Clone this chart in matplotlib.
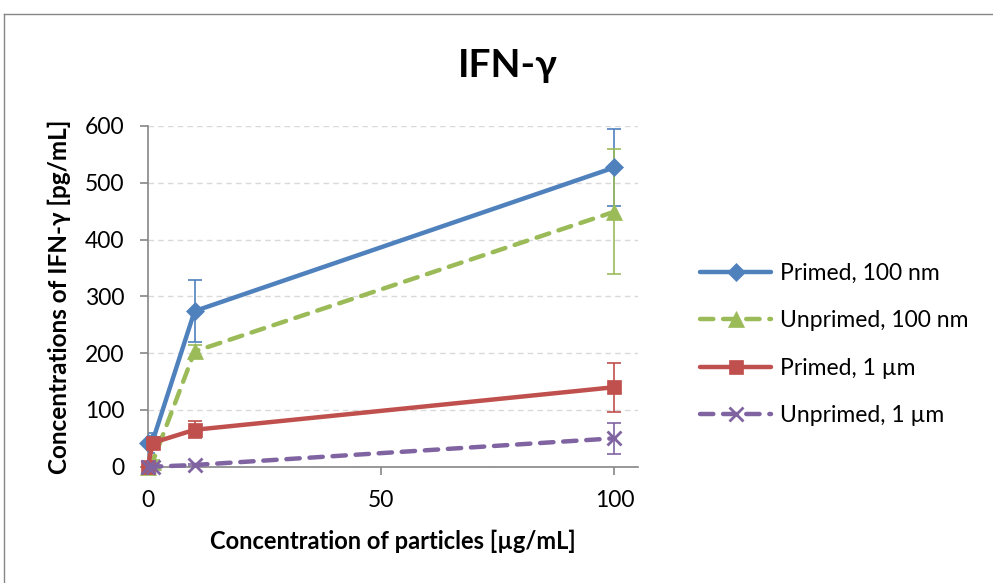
import matplotlib
matplotlib.use('Agg')
from matplotlib import pyplot as plt
from matplotlib.lines import Line2D

plt.rcParams['font.family'] = ['Lato', 'DejaVu Sans']

# concentrations of particles [ug/mL]
conc = [0, 1, 10, 100]

primed_100nm = [42, 45, 274, 527]
primed_100nm_err = [18, 8, 55, 68]
unprimed_100nm = [0, 8, 203, 449]
unprimed_100nm_err = [2, 4, 12, 110]
primed_1um = [0, 42, 65, 140]
primed_1um_err = [2, 8, 15, 43]
unprimed_1um = [0, 0, 3, 50]
unprimed_1um_err = [1, 1, 2, 27]

series = [
  ("Primed, 100 nm", primed_100nm, primed_100nm_err, '#4F81BD', '-', 'D', 9),
  ("Unprimed, 100 nm", unprimed_100nm, unprimed_100nm_err, '#9BBB59', (0, (3, 2.2)), '^', 11),
  ("Primed, 1 \u00b5m", primed_1um, primed_1um_err, '#C0504D', '-', 's', 10),
  ("Unprimed, 1 \u00b5m", unprimed_1um, unprimed_1um_err, '#8064A2', (0, (3, 2.2)), 'x', 10),
]

grey = '#868686'

fig = plt.figure(figsize=(9.93, 5.83), dpi=100)
ax = fig.add_axes([0.149, 0.1995, 0.4932, 0.5844])

handles = []
for label, vals, errs, color, ls, marker, ms in series:
  ax.errorbar(conc, vals, yerr=errs, fmt='none', ecolor=color,
              elinewidth=1.2, capsize=5, capthick=1.2, zorder=2)
  line, = ax.plot(conc, vals, color=color, linestyle=ls, linewidth=3.2,
                  marker=marker, markersize=ms, markeredgewidth=2 if marker == 'x' else 0.5,
                  markeredgecolor=color, markerfacecolor=color,
                  dash_capstyle='round', solid_capstyle='round', zorder=3, clip_on=False)
  handles.append(line)

ax.set_xlim(0, 105)
ax.set_ylim(0, 600)
ax.set_xticks([0, 50, 100])
ax.set_yticks(range(0, 601, 100))
ax.grid(True, axis='y', color='#D9D9D9', linestyle=(0, (4, 3)), linewidth=1)
ax.set_axisbelow(True)

for side in ['top', 'right']:
  ax.spines[side].set_visible(False)
for side in ['left', 'bottom']:
  ax.spines[side].set_color(grey)
  ax.spines[side].set_linewidth(1.2)

ax.tick_params(axis='both', direction='out', length=6, width=1.2, color=grey,
               labelsize=16.5, labelcolor='black')
ax.tick_params(axis='y', pad=11)
ax.tick_params(axis='x', pad=11)

ax.set_xlabel("Concentration of particles [\u00b5g/mL]", fontsize=17, fontweight='bold', labelpad=13)
ax.set_ylabel("Concentrations of IFN-\u03b3 [pg/mL]", fontsize=17.5, fontweight='bold', labelpad=10)

fig.text(0.511, 1 - 77 / 583, "IFN-\u03b3", fontsize=28, fontweight='bold',
         ha='center', va='baseline')

fig.legend(handles=handles, labels=[s[0] for s in series],
           loc='center left', bbox_to_anchor=(0.705, 0.409), frameon=False,
           fontsize=16.5, handlelength=3.1, handletextpad=0.4, labelspacing=1.15,
           borderpad=0, borderaxespad=0)

# chart area border, cut off at the right and bottom of the picture
fig.add_artist(Line2D([4 / 993, 1.0], [1 - 14 / 583] * 2, color=grey, linewidth=1,
                      transform=fig.transFigure))
fig.add_artist(Line2D([4 / 993] * 2, [0.0, 1 - 14 / 583], color=grey, linewidth=1,
                      transform=fig.transFigure))

fig.savefig('out.png', dpi=100)
